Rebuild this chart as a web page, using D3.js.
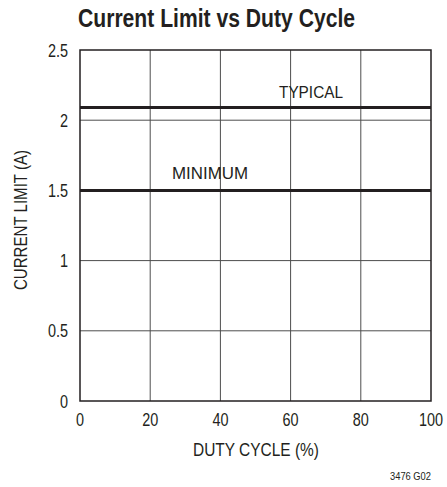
<!DOCTYPE html>
<html>
<head>
<meta charset="utf-8">
<script src="https://cdn.jsdelivr.net/npm/d3@7"></script>
<style>
  body { margin: 0; background: #fff; }
  text { font-family: "Liberation Sans", Arial, sans-serif; fill: #231f20; }
</style>
</head>
<body>
<svg id="chart" width="447" height="487"></svg>
<script>
// data
var dutyCycle = [0, 100];
var typical = [2.09, 2.09];
var minimum = [1.5, 1.5];
var xTicks = [0, 20, 40, 60, 80, 100];
var yTicks = [0, 0.5, 1, 1.5, 2, 2.5];
var curveLabels = ["TYPICAL", "MINIMUM"];

var svg = d3.select("#chart");
var mLeft = 80, mRight = 431, mTop = 50, mBottom = 401;

var x = d3.scaleLinear().domain([0, 100]).range([mLeft, mRight]);
var y = d3.scaleLinear().domain([0, 2.5]).range([mBottom, mTop]);

// narrow text: the reference uses a condensed face, so squeeze a regular one
function narrowText(g, str, px, py, size, anchor, sx) {
    return g.append("text")
        .text(str)
        .attr("transform", "translate(" + px + "," + py + ") scale(" + (sx || 0.8) + ",1)")
        .attr("text-anchor", anchor || "start")
        .attr("font-size", size);
}

// grid
svg.append("g").selectAll("line")
    .data(xTicks.slice(1, -1))
    .enter().append("line")
    .attr("x1", d => x(d)).attr("x2", d => x(d))
    .attr("y1", mTop).attr("y2", mBottom)
    .attr("stroke", "#4d4d4d").attr("stroke-width", 1);

svg.append("g").selectAll("line")
    .data(yTicks.slice(1, -1))
    .enter().append("line")
    .attr("x1", mLeft).attr("x2", mRight)
    .attr("y1", d => y(d)).attr("y2", d => y(d))
    .attr("stroke", "#4d4d4d").attr("stroke-width", 1);

// frame
svg.append("rect")
    .attr("x", mLeft).attr("y", mTop)
    .attr("width", mRight - mLeft).attr("height", mBottom - mTop)
    .attr("fill", "none").attr("stroke", "#231f20").attr("stroke-width", 1.5);

// curves
var line = d3.line().x(d => x(d[0])).y(d => y(d[1]));
[typical, minimum].forEach(function (s) {
    svg.append("path")
        .datum(dutyCycle.map((d, i) => [d, s[i]]))
        .attr("d", line)
        .attr("fill", "none")
        .attr("stroke", "#231f20")
        .attr("stroke-width", 3);
});

svg.append("text").text(curveLabels[0])
    .attr("x", 279).attr("y", y(typical[0]) - 10)
    .attr("font-size", 17)
    .attr("textLength", 64).attr("lengthAdjust", "spacingAndGlyphs");
svg.append("text").text(curveLabels[1])
    .attr("x", 172).attr("y", y(minimum[0]) - 11)
    .attr("font-size", 17)
    .attr("textLength", 76).attr("lengthAdjust", "spacingAndGlyphs");

// tick labels
var gx = svg.append("g");
xTicks.forEach(function (d) {
    narrowText(gx, d, x(d), 426, 18.5, "middle", 0.78);
});
var gy = svg.append("g");
yTicks.forEach(function (d) {
    narrowText(gy, d, 68, y(d) + 6.5, 18.5, "end", 0.78);
});

// titles
svg.append("text").text("Current Limit vs Duty Cycle")
    .attr("x", 78).attr("y", 27)
    .attr("font-size", 25).attr("font-weight", "bold")
    .attr("textLength", 277).attr("lengthAdjust", "spacingAndGlyphs");

svg.append("text").text("DUTY CYCLE (%)")
    .attr("x", 193).attr("y", 456)
    .attr("font-size", 18)
    .attr("textLength", 126).attr("lengthAdjust", "spacingAndGlyphs");

svg.append("text").text("CURRENT LIMIT (A)")
    .attr("transform", "translate(27,290) rotate(-90)")
    .attr("font-size", 18)
    .attr("textLength", 140).attr("lengthAdjust", "spacingAndGlyphs");

svg.append("text").text("3476 G02")
    .attr("x", 390).attr("y", 480)
    .attr("font-size", 11)
    .attr("textLength", 41).attr("lengthAdjust", "spacingAndGlyphs");
</script>
</body>
</html>
